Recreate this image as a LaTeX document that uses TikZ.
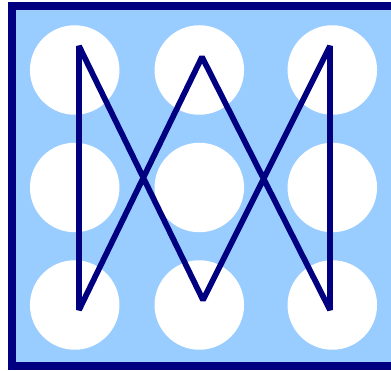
\documentclass[tikz,border=0pt]{standalone}
\definecolor{navyc}{HTML}{000080}
\definecolor{skyc}{HTML}{99CCFF}
\tikzset{
  dot/.style={circle, fill=white, minimum size=89.5pt, inner sep=0pt, draw=none},
  zig/.style={draw=navyc, line width=5.7pt, line join=bevel}
}
\begin{document}
\begin{tikzpicture}[x=1pt,y=-1pt]
\useasboundingbox (0,0) rectangle (391,371);
\begin{scope}
\clip (0,0) rectangle (391,371);
\draw[fill=skyc, draw=navyc, line width=8pt] (12,6) rectangle (395,366);
\end{scope}
\node[dot] (c11) at (74.7,70) {};
\node[dot] (c12) at (199.3,70) {};
\node[dot] (c13) at (332.3,70) {};
\node[dot] (c21) at (74.7,187.5) {};
\node[dot] (c22) at (199.3,187.5) {};
\node[dot] (c23) at (332.3,187.5) {};
\node[dot] (c31) at (74.7,305) {};
\node[dot] (c32) at (199.3,305) {};
\node[dot] (c33) at (332.3,305) {};
\coordinate (p1) at (79,46);
\coordinate (p2) at (79,310);
\coordinate (p3) at (202,57);
\coordinate (p4) at (330,310);
\coordinate (p5) at (330,46);
\coordinate (p6) at (203,300);
\draw[zig] (p1) -- (p2) -- (p3) -- (p4) -- (p5) -- (p6) -- cycle;
\end{tikzpicture}
\end{document}
